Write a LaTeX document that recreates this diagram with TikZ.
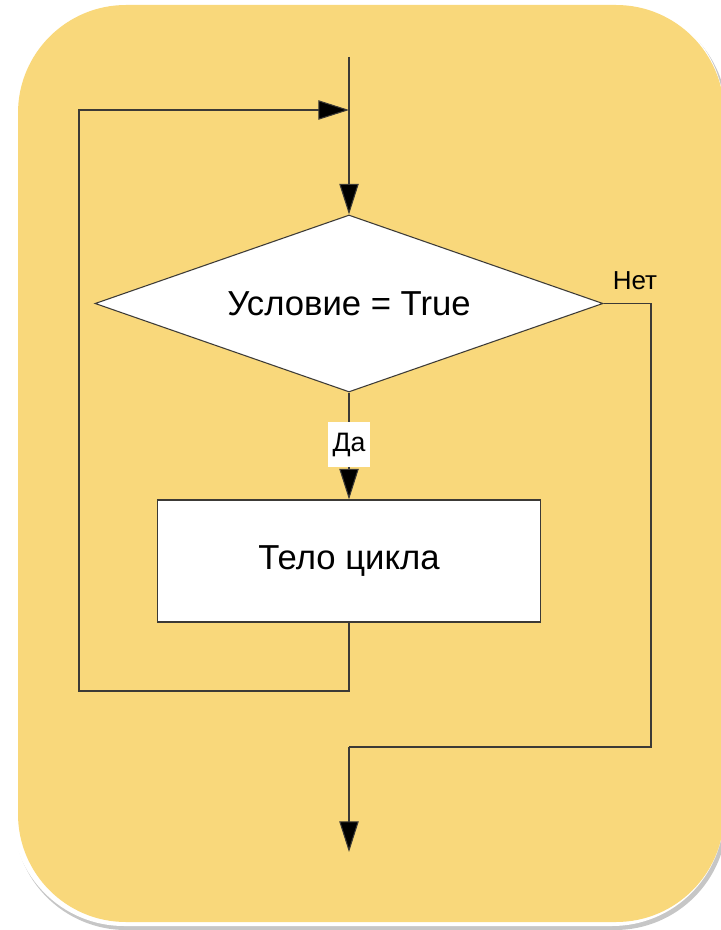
\documentclass[tikz,border=0pt]{standalone}
\usepackage{fontspec}
\setmainfont{Liberation Sans}
\usetikzlibrary{shapes.geometric,arrows.meta}
\definecolor{bgyellow}{HTML}{F9D87B}
\definecolor{linecol}{HTML}{3C3A36}
\tikzset{
  flowline/.style={draw=linecol, line width=0.8pt},
  tipdown/.style={-{Triangle[length=23pt,width=14.5pt,fill=black]}},
  decision/.style={diamond, draw=linecol, line width=0.8pt, fill=white, aspect=2.87,
    minimum width=381pt, minimum height=132.75pt, inner sep=0pt,
    font=\fontsize{26}{30}\selectfont},
  bodybox/.style={rectangle, draw=linecol, line width=0.8pt, fill=white,
    minimum width=287.25pt, minimum height=91.5pt, inner sep=0pt,
    font=\fontsize{26}{30}\selectfont},
  lbl/.style={inner sep=1.5pt, font=\fontsize{19.5}{22}\selectfont},
  yeslbl/.style={fill=white, inner sep=0pt, minimum width=31.5pt, minimum height=33.75pt,
    font=\fontsize{20}{22}\selectfont},
}
\begin{document}
\begin{tikzpicture}[x=0.75pt,y=-0.75pt]
\useasboundingbox (0,0) rectangle (720,930);
% card background
\fill[gray!45,rounded corners=84pt] (14,4) rectangle (727,930);
\fill[white,rounded corners=84pt] (12,0) rectangle (724,926);
\fill[bgyellow,rounded corners=81pt] (18,5) rectangle (724,922);
% nodes
\coordinate (start) at (349,57);
\node[decision] (cond) at (349,303.5) {Условие = True};
\node[bodybox] (body) at (349,561) {Тело цикла};
\coordinate (loopin) at (349,110);
\coordinate (bl) at (349,691);
\coordinate (lb) at (79,691);
\coordinate (lt) at (79,110);
\coordinate (exitr) at (651,303.5);
\coordinate (exitb) at (651,747);
\coordinate (exitm) at (349,747);
\coordinate (endp) at (349,852);
% connectors
\draw[flowline,tipdown] (start) -- (cond.north);
\draw[flowline,tipdown] (cond.south) -- (body.north);
\node[yeslbl] (yes) at (349,444.5) {Да};
\draw[flowline,tipdown] (body.south) -- (bl) -- (lb) -- (lt) -- (loopin);
\draw[flowline] (cond.east) -- (exitr) -- (exitb) -- (exitm);
\draw[flowline,tipdown] (exitm) -- (endp);
\node[lbl] (no) at (635,281) {Нет};
\end{tikzpicture}
\end{document}
